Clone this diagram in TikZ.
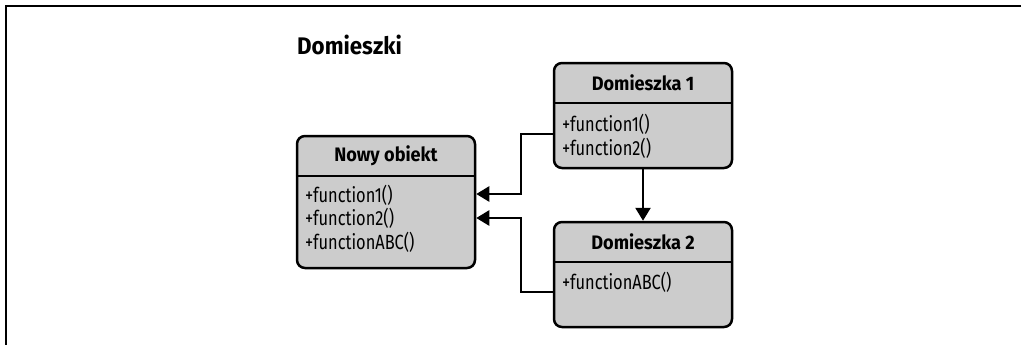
\documentclass[tikz,border=0pt]{standalone}
\usepackage{fontspec}
\setmainfont{Fira Sans}[FakeStretch=0.93]
\newfontfamily\itemfont{Fira Sans}[FakeStretch=0.8]
\usetikzlibrary{arrows.meta}
\definecolor{boxgray}{gray}{0.8}
\begin{document}
\begin{tikzpicture}[x=1pt,y=-1pt,
  classbox/.style={draw=black, line width=2.5pt, fill=boxgray, rounded corners=8pt, inner sep=0pt, minimum width=178pt},
  sepline/.style={line width=2.2pt},
  hdr/.style={font=\bfseries\fontsize{19.5}{22}\selectfont, inner sep=0pt, anchor=center},
  item/.style={font=\itemfont\fontsize{20.5}{22}\selectfont, inner sep=0pt, anchor=west},
  conn/.style={line width=2.5pt},
  arr/.style={conn, -{Triangle[length=13pt,width=15pt]}}]
\useasboundingbox (0,0) rectangle (1024,345);
% frame
\draw[line width=2.5pt] (1021,6) -- (6,6) -- (6,345);
% title
\node[font=\bfseries\fontsize{24}{27}\selectfont, anchor=west, inner sep=0pt] (title) at (297,45) {Domieszki};
% Nowy obiekt
\node[classbox, minimum height=132pt] (nowy) at (386,202) {};
\draw[sepline] (nowy.west |- 0,176) -- (nowy.east |- 0,176);
\node[hdr] (nowyh) at (386,156) {Nowy obiekt};
\node[item] (n1) at (305,195) {+function1()};
\node[item] (n2) at (305,218) {+function2()};
\node[item] (n3) at (305,242) {+functionABC()};
% Domieszka 1
\node[classbox, minimum height=105pt] (d1) at (643,115.5) {};
\draw[sepline] (d1.west |- 0,103) -- (d1.east |- 0,103);
\node[hdr] (d1h) at (643,83) {Domieszka 1};
\node[item] (d1a) at (562,124) {+function1()};
\node[item] (d1b) at (562,148) {+function2()};
% Domieszka 2
\node[classbox, minimum height=105pt] (d2) at (643,274.5) {};
\draw[sepline] (d2.west |- 0,262) -- (d2.east |- 0,262);
\node[hdr] (d2h) at (643,242) {Domieszka 2};
\node[item] (d2a) at (562,282) {+functionABC()};
% connectors
\coordinate (j1) at (521,134);
\coordinate (j2) at (521,292);
\draw[arr] (d1.west |- j1) -- (j1) |- (nowy.east |- 0,194);
\draw[arr] (d2.west |- j2) -- (j2) |- (nowy.east |- 0,218);
\draw[arr] (d1.south) -- (d2.north);
\end{tikzpicture}
\end{document}
